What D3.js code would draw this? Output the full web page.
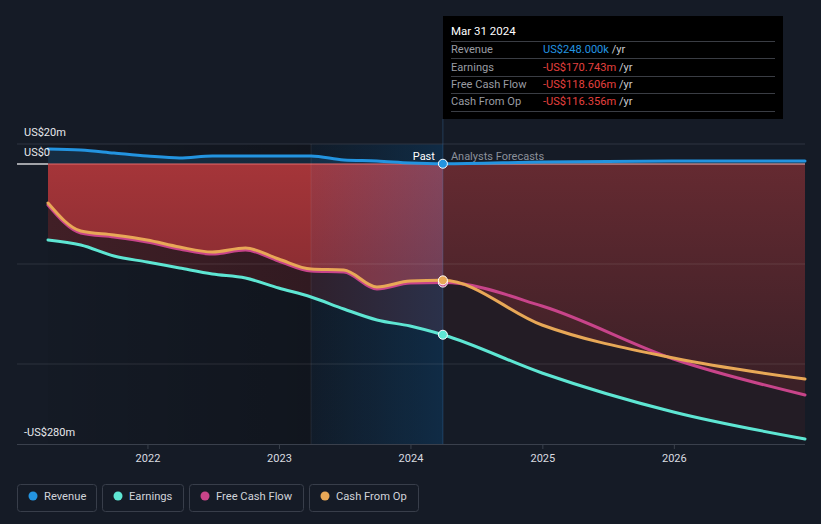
<!DOCTYPE html>
<html><head><meta charset="utf-8">
<script src="https://cdn.jsdelivr.net/npm/d3@7"></script>
<style>
html,body{margin:0;padding:0;background:#151b26;}
svg{display:block;font-family:Roboto,"Noto Sans",sans-serif;}
</style></head>
<body>
<svg id="chart" width="821" height="524"></svg>
<script>
// ---------- data (US$ millions) ----------
const dates = ["2021-03-31","2021-06-30","2021-09-30","2021-12-31","2022-03-31","2022-06-30","2022-09-30","2022-12-31","2023-03-31","2023-06-30","2023-09-30","2023-12-31","2024-03-31","2024-12-31","2025-12-31","2026-12-31"];
const revenue  = [15, 14, 11, 8, 6, 8, 8, 8, 8, 4, 3, 1, 0.248, 2, 3, 3];
const earnings = [-76, -81, -92, -98, -104, -110, -114, -124, -133, -145, -156, -162, -170.743, -209, -248, -275];
const freeCashFlow = [-41, -69, -73, -78, -85, -90, -86, -97, -107, -108, -125, -119, -118.606, -142, -195, -231];
const cashFromOp   = [-39, -67, -71, -76, -83, -88, -84, -95, -105, -106, -123, -117, -116.356, -161, -194, -215];
const yTickValues = [20, 0, -280];
const yTickLabels = ["US$20m", "US$0", "-US$280m"];
const xTickYears = [2022, 2023, 2024, 2025, 2026];
const seriesNames = ["Revenue", "Earnings", "Free Cash Flow", "Cash From Op"];
const seriesColors = ["#2394e0", "#5ee6d3", "#c8448a", "#e8a857"];
const tooltipDate = "Mar 31 2024";
const tooltipValues = ["US$248.000k", "-US$170.743m", "-US$118.606m", "-US$116.356m"];
const nowDate = "2024-03-31";
const bandStart = "2023-03-31";

// ---------- setup ----------
const parse = d3.timeParse("%Y-%m-%d");
const D = dates.map(parse);
const svg = d3.select("#chart");
const W = 821, H = 524;
const x = d3.scaleTime().domain([D[0], D[D.length-1]]).range([48, 805]);
const y = d3.scaleLinear().domain([-280, 20]).range([444, 144]);
const xNow = x(parse(nowDate)), xBand = x(parse(bandStart));
const x0 = x(D[0]), x1 = x(D[D.length-1]);

const pts = (arr) => arr.map((v,i)=>({d:D[i], v}));
const lowerArr = freeCashFlow.map((v,i)=>Math.min(v, cashFromOp[i]));

const defs = svg.append("defs");
function lin(id, x1_, y1_, x2_, y2_, stops){
  const g = defs.append("linearGradient").attr("id", id).attr("gradientUnits","userSpaceOnUse")
    .attr("x1",x1_).attr("y1",y1_).attr("x2",x2_).attr("y2",y2_);
  stops.forEach(s=>g.append("stop").attr("offset",s[0]).attr("stop-color",s[1]).attr("stop-opacity",s[2]==null?1:s[2]));
}
lin("pastDark", x0, 0, xNow, 0, [[0,"#000",0.04],[1,"#000",0.3]]);
lin("pastMid", x0, 0, xBand, 0, [[0,"#411f26"],[1,"#311a21"]]);
lin("pastRed", 0, y(0), 0, y(-110), [[0,"#a53539"],[1,"#8b2d32"]]);
lin("fcRed", 0, y(0), 0, y(-220), [[0,"#652a31"],[1,"#3b2027"]]);
lin("band", xBand, 0, xNow, 0, [[0,"rgb(20,130,220)",0.06],[1,"rgb(20,130,220)",0.22]]);

defs.append("clipPath").attr("id","clipPast").append("rect").attr("x",x0).attr("y",140).attr("width",xNow-x0).attr("height",305);
defs.append("clipPath").attr("id","clipFc").append("rect").attr("x",xNow).attr("y",140).attr("width",x1-xNow).attr("height",305);

svg.append("rect").attr("width",W).attr("height",H).attr("fill","#151b26");

const curve = d3.curveMonotoneX;
const area0 = d3.area().x(p=>x(p.d)).y0(y(0)).y1(p=>y(p.v)).curve(curve);
const line = d3.line().x(p=>x(p.d)).y(p=>y(p.v)).curve(curve);

// past region darkening
svg.append("rect").attr("x",x0).attr("y",144).attr("width",xNow-x0).attr("height",300).attr("fill","url(#pastDark)");

// revenue area
svg.append("path").attr("d",area0(pts(revenue))).attr("fill","rgba(35,148,224,0.16)");

// past fills
const gp = svg.append("g").attr("clip-path","url(#clipPast)");
gp.append("path").attr("d",area0(pts(earnings))).attr("fill","url(#pastMid)");
gp.append("path").attr("d",area0(pts(lowerArr))).attr("fill","url(#pastRed)");
// forecast fills
const gf = svg.append("g").attr("clip-path","url(#clipFc)");
gf.append("path").attr("d",area0(pts(earnings))).attr("fill","#231c25");
gf.append("path").attr("d",area0(pts(lowerArr))).attr("fill","url(#fcRed)");

// highlight band
svg.append("rect").attr("x",xBand).attr("y",144).attr("width",xNow-xBand).attr("height",300).attr("fill","url(#band)");

// gridlines
[20,-100,-200].forEach(v=>{
  svg.append("line").attr("x1",17).attr("x2",x1).attr("y1",y(v)).attr("y2",y(v))
    .attr("stroke", v===20 ? "#2f3541" : "rgba(255,255,255,0.1)").attr("stroke-width",1);
});
// bottom axis
svg.append("line").attr("x1",17).attr("x2",x1).attr("y1",444.5).attr("y2",444.5).attr("stroke","#3a404c").attr("stroke-width",1);
const xAxis = d3.axisBottom(x).tickValues(xTickYears.map(yr=>new Date(yr,0,1))).tickFormat(d3.timeFormat("%Y")).tickSize(5).tickPadding(5);
const ax = svg.append("g").attr("transform","translate(0,444)").call(xAxis);
ax.select(".domain").remove();
ax.selectAll(".tick line").attr("stroke","#3a404c");
ax.selectAll(".tick text").attr("fill","#d9dbe0").attr("font-size","11px").attr("font-family","Roboto,sans-serif");

// zero line
svg.append("line").attr("x1",17).attr("x2",x0).attr("y1",y(0)).attr("y2",y(0)).attr("stroke","#ffffff").attr("stroke-width",1.2);
svg.append("line").attr("x1",x0).attr("x2",xNow).attr("y1",y(0)).attr("y2",y(0)).attr("stroke","#e36b6b").attr("stroke-width",1.2);
svg.append("line").attr("x1",xNow).attr("x2",x1).attr("y1",y(0)).attr("y2",y(0)).attr("stroke","#f2b0b0").attr("stroke-width",1.2);

// vertical markers
svg.append("line").attr("x1",xBand).attr("x2",xBand).attr("y1",144).attr("y2",444).attr("stroke","rgba(255,255,255,0.08)");
svg.append("line").attr("x1",xNow).attr("x2",xNow).attr("y1",119).attr("y2",444).attr("stroke","rgba(60,120,180,0.35)");

// series lines
const seriesData = [revenue, earnings, freeCashFlow, cashFromOp];
[0,1,2,3].forEach(i=>{
  svg.append("path").attr("d",line(pts(seriesData[i]))).attr("fill","none")
    .attr("stroke",seriesColors[i]).attr("stroke-width",3).attr("stroke-linecap","round");
});
// dots at now
const nowIdx = dates.indexOf(nowDate);
[0,2,3,1].forEach(i=>{
  svg.append("circle").attr("cx",xNow).attr("cy",y(seriesData[i][nowIdx])).attr("r",4.5)
    .attr("fill",seriesColors[i]).attr("stroke","#ffffff").attr("stroke-width",1);
});

// y labels
yTickValues.forEach((v,i)=>{
  svg.append("text").attr("x",24).attr("y",y(v)-8).attr("fill","#e6e8ec").attr("font-size","11px").text(yTickLabels[i]);
});

// Past / forecast labels
svg.append("text").attr("x",xNow-8).attr("y",160).attr("text-anchor","end").attr("fill","#ffffff").attr("font-size","11px").text("Past");
svg.append("text").attr("x",xNow+8).attr("y",160).attr("fill","#8b909a").attr("font-size","11px").text("Analysts Forecasts");

// tooltip
const tt = svg.append("g");
tt.append("rect").attr("x",443).attr("y",16).attr("width",340).attr("height",103).attr("fill","#000000");
tt.append("text").attr("x",451).attr("y",35).attr("fill","#ffffff").attr("font-size","11.5px").text(tooltipDate);
[41,58,76,93,111].forEach(yy=>tt.append("line").attr("x1",451).attr("x2",775).attr("y1",yy+0.5).attr("y2",yy+0.5).attr("stroke","#3a3d44"));
const rowY = [53,71,88,105];
seriesNames.forEach((n,i)=>{
  tt.append("text").attr("x",451).attr("y",rowY[i]).attr("fill","#9a9ca3").attr("font-size","11.1px").text(n);
  const t = tt.append("text").attr("x",543).attr("y",rowY[i]).attr("font-size","11.1px");
  t.append("tspan").attr("fill", i===0 ? "#2394e0" : "#e5413f").text(tooltipValues[i]);
  t.append("tspan").attr("fill","#c9cbd0").text(" /yr");
});

// legend
const legX = [17,102,189,309], legW = [80,82,115,110];
seriesNames.forEach((n,i)=>{
  const g = svg.append("g").attr("transform",`translate(${legX[i]},484)`);
  g.append("rect").attr("x",0.5).attr("y",0.5).attr("width",legW[i]-1).attr("height",27).attr("rx",3)
    .attr("fill","none").attr("stroke","#383e4a");
  g.append("circle").attr("cx",16).attr("cy",12).attr("r",4.5).attr("fill",seriesColors[i]);
  g.append("text").attr("x",27).attr("y",16).attr("fill","#d0d3d9").attr("font-size","11.2px").text(n);
});
</script>
</body></html>
